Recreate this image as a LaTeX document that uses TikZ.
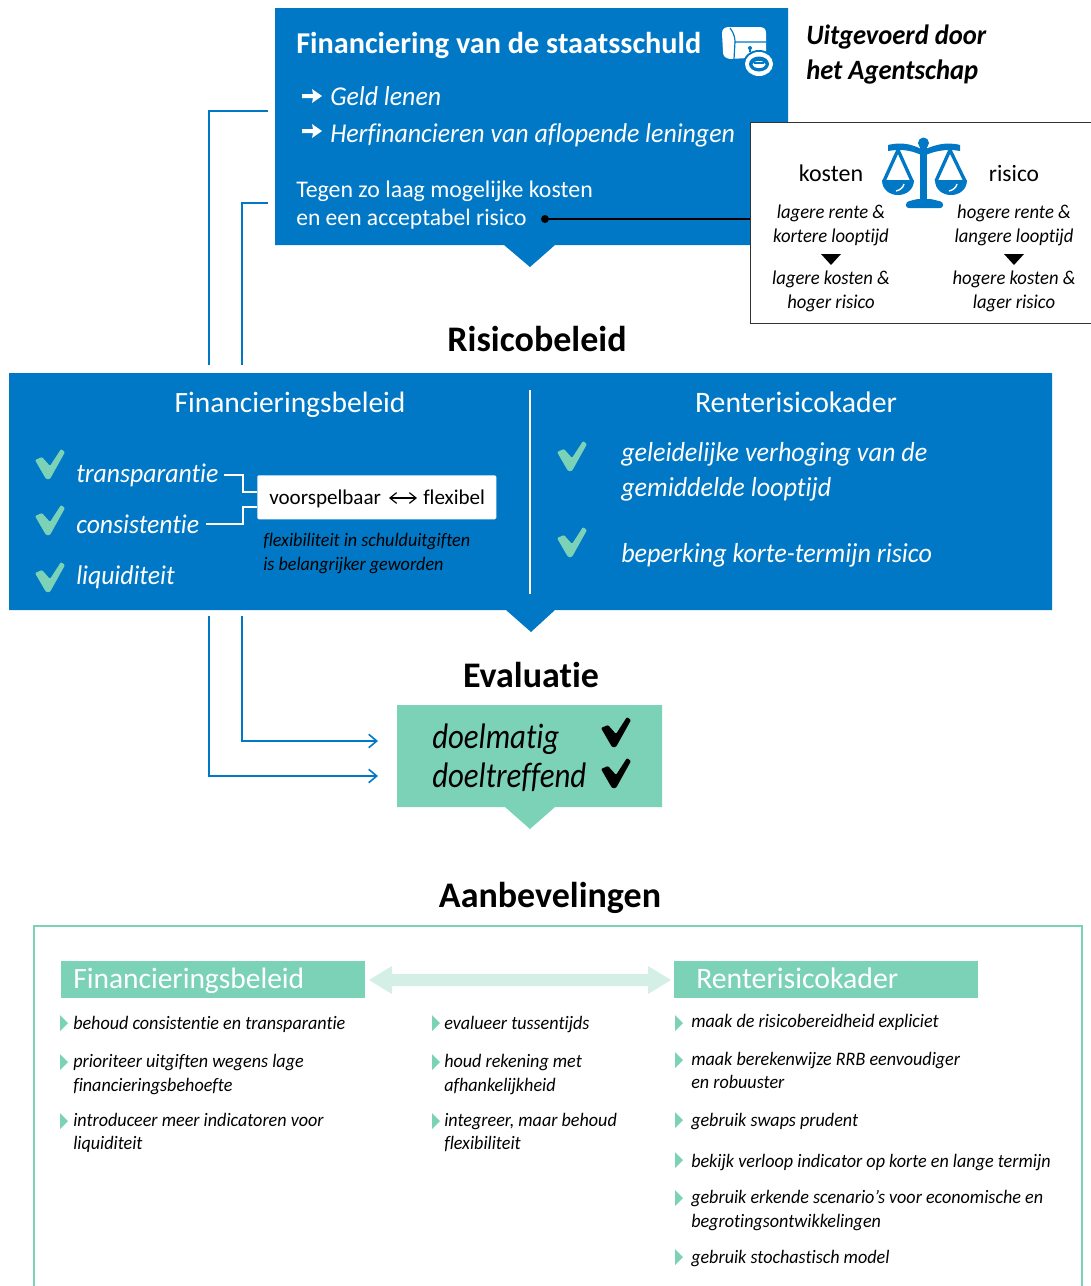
\documentclass[tikz,border=0pt]{standalone}
\usepackage{fontspec}
\setmainfont{Carlito}[Ligatures=NoCommon,ItalicFeatures={FakeStretch=.95},BoldItalicFeatures={FakeStretch=.95}]
\newfontfamily\dlmfont{Carlito}[Ligatures=NoCommon,ItalicFeatures={FakeStretch=.87}]
\usetikzlibrary{arrows.meta}
\definecolor{rijk}{HTML}{0078C5}
\definecolor{mint}{HTML}{7BD2B6}
\definecolor{lmint}{HTML}{D3EFE6}
\newcommand\fsz[1]{\fontsize{#1}{#1}\selectfont}
\tikzset{
 txt/.style={inner sep=0pt,anchor=base west},
 ctr/.style={inner sep=0pt,anchor=base},
 wh/.style={text=white},
 link/.style={draw=rijk,line width=1.2pt},
 linkw/.style={draw=white,line width=.8pt},
 tipp/.style={-{Straight Barb[length=6pt,width=10pt]}},
 chk/.pic={\fill[pic actions,rounded corners=.8pt] (-15,-4) -- (-8,-7) -- (0,2) -- (11,-15) -- (15,-12) -- (0,15) -- (-4,15) -- cycle;},
 bul/.pic={\fill[mint] (0,-8) -- (8,0) -- (0,8) -- cycle;},
 arr/.pic={\fill[white] (-10,-2) -- (1,-2) -- (0,-7) -- (10,0) -- (0,7) -- (1,2) -- (-10,2) -- cycle;},
}
\begin{document}
\begin{tikzpicture}[x=.75pt,y=-.75pt]
\useasboundingbox (0,0) rectangle (1091,1286);
\clip (0,0) rectangle (1091,1286);
% connectors left
\coordinate (a1) at (209,365); \coordinate (a2) at (209,111); \coordinate (a3) at (268,111);
\coordinate (b1) at (242,365); \coordinate (b2) at (242,203); \coordinate (b3) at (268,203);
\draw[link] (a1) -- (a2) -- (a3);
\draw[link] (b1) -- (b2) -- (b3);
% top box
\fill[rijk] (275,8) -- (788,8) -- (788,245) -- (555,245) -- (530,267) -- (504,245) -- (275,245) -- cycle;
\node[txt,wh,font=\bfseries\fsz{22.7}] (t1) at (296,53) {Financiering van de staatsschuld};
\pic at (312,96) {arr};
\pic at (312,131) {arr};
\node[txt,wh,font=\itshape\fsz{20.4}] (t2) at (330,105) {Geld lenen};
\node[txt,wh,font=\itshape\fsz{20.4}] (t3) at (330,142) {Herfinancieren van aflopende leningen};
\node[txt,wh,font=\fsz{17.9}] (t4) at (296,197) {Tegen zo laag mogelijke kosten};
\node[txt,wh,font=\fsz{17.7}] (t5) at (296,225) {en een acceptabel risico};
% chest icon
\fill[white] (722,33) .. controls (722,29) and (725,27) .. (729,27) -- (759,27) .. controls (764,27) and (766,29) .. (766,33) -- (766,56) -- (748,58) -- (730,59) .. controls (725,58) and (723,56) .. (723,52) -- cycle;
\draw[rijk,line width=.9pt] (730,28) .. controls (734,33) and (735,38) .. (735,42) -- (766,42);
\draw[rijk,line width=.9pt] (735,42) -- (734,59);
\fill[rijk] (750,48) circle (2); \fill[rijk] (749,48) rectangle (751,52);
\fill[rijk] (759,64) ellipse (16 and 14);
\fill[white] (759,64) ellipse (14 and 12);
\fill[rijk] (759,64) ellipse (10 and 7.5);
\fill[white] (759,64.5) ellipse (6.5 and 3.5);
\fill[rijk] (754,62) rectangle (764,64);
% right text
\node[txt,font=\bfseries\itshape\fsz{21}] (u1) at (806,44) {Uitgevoerd door};
\node[txt,font=\bfseries\itshape\fsz{21}] (u2) at (806,79) {het Agentschap};
% cost box
\node[draw=black!80,fill=white,line width=.8pt,inner sep=0pt,minimum width=360*.75pt,minimum height=201*.75pt,anchor=north west] (cb) at (750,122) {};
\coordinate (dot) at (545,219);
\fill (dot) circle (4);
\draw[line width=1.2pt] (dot) -- (cb.west |- dot);
\node[ctr,font=\fsz{18}] (k) at (831,181) {kosten};
\node[ctr,font=\fsz{17.6}] (r) at (1014,181) {risico};
% scales icon
\begin{scope}[rijk]
\fill (920,146) -- (927,146) -- (927,202) -- (920,202) -- cycle;
\fill (923.5,143) circle (5.5);
\fill[rounded corners=2pt] (906,208) -- (906,202) -- (917,199) -- (931,199) -- (943,202) -- (943,208) -- cycle;
\fill (888,145) .. controls (905,141) and (915,146) .. (923.5,150) .. controls (932,146) and (945,141) .. (960,145) -- (960,151) .. controls (945,148) and (932,152) .. (923.5,156) .. controls (915,152) and (905,148) .. (888,151) -- cycle;
\draw[line width=2.5pt,line join=round] (884,181) -- (898,150) -- (912,181);
\draw[line width=2.5pt,line join=round] (936,181) -- (950,150) -- (965,181);
\fill (882,180) -- (914,180) .. controls (914,200) and (882,200) .. (882,180) -- cycle;
\fill (935,180) -- (967,180) .. controls (967,200) and (935,200) .. (935,180) -- cycle;
\draw[white,line width=1pt] (904,184) .. controls (903,188) and (900,190) .. (896,191);
\draw[white,line width=1pt] (957,184) .. controls (956,188) and (953,190) .. (949,191);
\end{scope}
\foreach \n/\x/\y/\s in {c1/831/218/lagere rente \&,c2/831/242/kortere looptijd,c3/831/284/lagere kosten \&,c4/831/308/hoger risico,d1/1014/218/hogere rente \&,d2/1014/242/langere looptijd,d3/1014/284/hogere kosten \&,d4/1014/308/lager risico}
 \node[ctr,font=\itshape\fsz{14.7}] (\n) at (\x,\y) {\s};
\fill (821,254) -- (841,254) -- (831,265) -- cycle;
\fill (1004,254) -- (1024,254) -- (1014,265) -- cycle;
% heading
\node[ctr,font=\bfseries\fsz{27}] (h1) at (537,351) {Risicobeleid};
% middle box
\fill[rijk] (9,373) -- (1052,373) -- (1052,610) -- (555,610) -- (531,632) -- (506,610) -- (9,610) -- cycle;
\draw[white,line width=1pt] (530,390) -- (530,594);
\node[ctr,wh,font=\fsz{22.1}] (m1) at (290,412) {Financieringsbeleid};
\node[ctr,wh,font=\fsz{22.3}] (m2) at (796,412) {Renterisicokader};
\pic[mint] at (50,464) {chk};
\pic[mint] at (50,520) {chk};
\pic[mint] at (50,577) {chk};
\node[txt,wh,font=\itshape\fsz{20.3}] (l1) at (76,482) {transparantie};
\node[txt,wh,font=\itshape\fsz{20.3}] (l2) at (76,533) {consistentie};
\node[txt,wh,font=\itshape\fsz{20.3}] (l3) at (76,584) {liquiditeit};
\node[fill=white,inner sep=0pt,minimum width=239*.75pt,minimum height=44*.75pt,rounded corners=1pt,anchor=north west] (vf) at (257,475) {};
\node[txt,font=\fsz{15.8}] (vf1) at (269,504) {voorspelbaar};
\node[txt,font=\fsz{15.8}] (vf2) at (423,504) {flexibel};
\coordinate (vfa) at (389,498); \coordinate (vfb) at (417,498);
\draw[line width=.9pt,{Straight Barb[length=5pt,width=8pt]}-{Straight Barb[length=5pt,width=8pt]}] (vfa) -- (vfb);
\coordinate (p1) at (224,475); \coordinate (p2) at (243,475); \coordinate (p3) at (243,492);
\coordinate (q1) at (206,524); \coordinate (q2) at (243,524); \coordinate (q3) at (243,507);
\draw[linkw] (p1) -- (p2) -- (p3) -- (vf.west |- p3);
\draw[linkw] (q1) -- (q2) -- (q3) -- (vf.west |- q3);
\node[txt,font=\itshape\fsz{14.3}] (f1) at (263,546) {flexibiliteit in schulduitgiften};
\node[txt,font=\itshape\fsz{14.3}] (f2) at (263,570) {is belangrijker geworden};
\pic[mint] at (572,456) {chk};
\pic[mint] at (572,542) {chk};
\node[txt,wh,font=\itshape\fsz{20.6}] (g1) at (621,461) {geleidelijke verhoging van de};
\node[txt,wh,font=\itshape\fsz{20.6}] (g2) at (621,496) {gemiddelde looptijd};
\node[txt,wh,font=\itshape\fsz{20.6}] (g3) at (621,562) {beperking korte-termijn risico};
% evaluatie
\node[ctr,font=\bfseries\fsz{27}] (h2) at (531,687) {Evaluatie};
\fill[mint] (397,705) -- (662,705) -- (662,807) -- (555,807) -- (530,829) -- (505,807) -- (397,807) -- cycle;
\coordinate (e1) at (209,616); \coordinate (e2) at (209,776); \coordinate (e3) at (378,776);
\coordinate (f1c) at (242,616); \coordinate (f2c) at (242,741); \coordinate (f3c) at (378,741);
\draw[link,tipp] (e1) -- (e2) -- (e3);
\draw[link,tipp] (f1c) -- (f2c) -- (f3c);
\node[txt,font=\dlmfont\itshape\fsz{26.6}] (e4) at (432,748) {doelmatig};
\node[txt,font=\dlmfont\itshape\fsz{26.6}] (e5) at (432,787) {doeltreffend};
\pic[black] at (616,732) {chk};
\pic[black] at (616,773) {chk};
% aanbevelingen
\node[ctr,font=\bfseries\fsz{27}] (h3) at (550,907) {Aanbevelingen};
\draw[mint,line width=1pt] (34,1290) -- (34,926) -- (1082,926) -- (1082,1290);
\fill[mint] (61,961) rectangle (365,998);
\fill[mint] (674,961) rectangle (978,998);
\fill[lmint] (369,980) -- (392,966) -- (392,974) -- (648,974) -- (648,966) -- (671,980) -- (648,994) -- (648,986) -- (392,986) -- (392,994) -- cycle;
\node[txt,wh,font=\fsz{22.1}] (a0) at (73,988) {Financieringsbeleid};
\node[txt,wh,font=\fsz{22.3}] (b0) at (696,988) {Renterisicokader};
\foreach \x/\y in {60/1023,60/1062,60/1121,432/1023,432/1062,432/1121,675/1023,675/1060,675/1120,675/1160,675/1198,675/1257}
 \pic at (\x,\y) {bul};
\foreach \n/\x/\y/\s in {
 la/73/1029/behoud consistentie en transparantie,
 lb/73/1067/prioriteer uitgiften wegens lage,
 lc/73/1091/financieringsbehoefte,
 ld/73/1126/introduceer meer indicatoren voor,
 le/73/1149/liquiditeit,
 ma/444/1029/evalueer tussentijds,
 mb/444/1067/houd rekening met,
 mc/444/1091/afhankelijkheid,
 md/444/1126/{integreer, maar behoud},
 me/444/1149/flexibiliteit,
 ra/691/1027/maak de risicobereidheid expliciet,
 rb/691/1065/maak berekenwijze RRB eenvoudiger,
 rc/691/1088/en robuuster,
 rd/691/1126/gebruik swaps prudent,
 re/691/1167/bekijk verloop indicator op korte en lange termijn,
 rf/691/1203/gebruik erkende scenario’s voor economische en,
 rg/691/1227/begrotingsontwikkelingen,
 rh/691/1263/gebruik stochastisch model}
 \node[txt,font=\itshape\fsz{14.3}] (\n) at (\x,\y) {\s};
\end{tikzpicture}
\end{document}
